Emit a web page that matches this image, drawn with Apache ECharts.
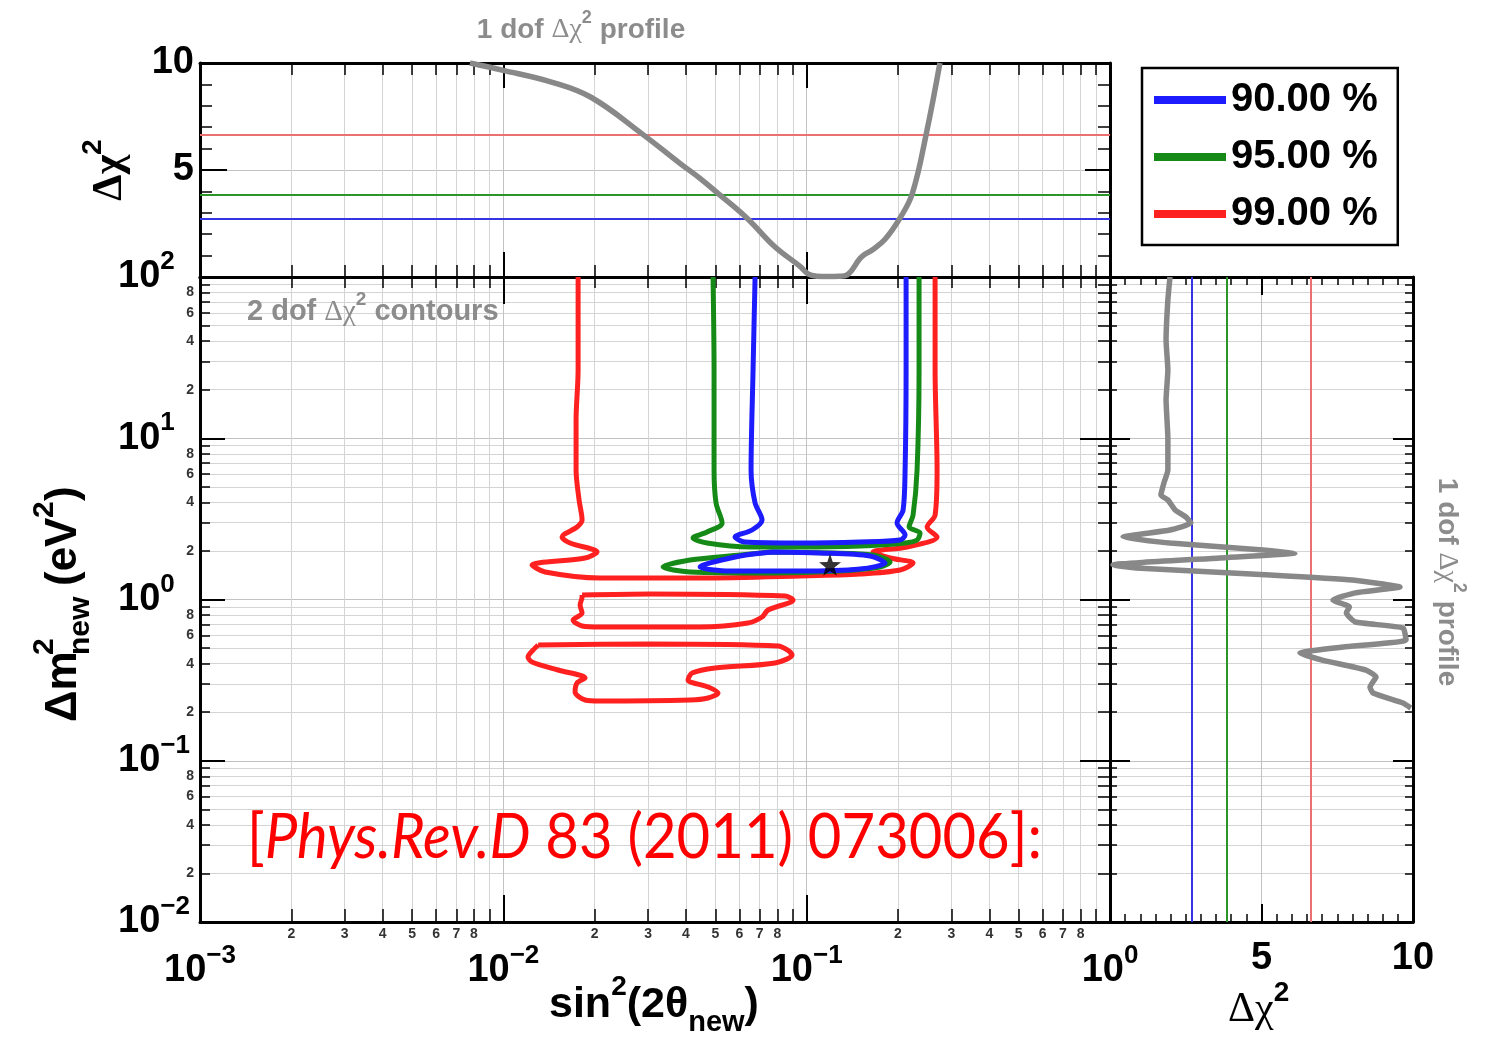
<!DOCTYPE html>
<html><head><meta charset="utf-8">
<script src="https://cdn.jsdelivr.net/npm/echarts@6/dist/echarts.min.js"></script>
<style>html,body{margin:0;padding:0;background:#fff}#c{width:1486px;height:1052px}</style>
</head><body><div id="c"></div>
<script>
// ---------- data ----------
const sin2Range = [0.001, 1];
const dm2Range = [0.01, 100];
const chi2Range = [0, 10];

const levelNames = ['90.00 %', '95.00 %', '99.00 %'];
const levelColors = ['#1c1cff', '#168a16', '#ff2020'];
const oneDofThresholds = [2.71, 3.84, 6.63];
const thresholdColors = ['#3434e4', '#2a962a', '#ec7070'];

const minorMantissaX = [2, 3, 4, 5, 6, 7, 8];
const minorMantissaY = [2, 4, 6, 8];
const decadesX = [0.001, 0.01, 0.1];
const decadesY = [0.01, 0.1, 1, 10];

// 1 dof profile vs sin^2(2theta) (top panel)
const profileTopSin2 = [0.00776, 0.0099, 0.0145, 0.01945, 0.0286, 0.0383, 0.0446, 0.0511, 0.0636, 0.0787, 0.0951, 0.101, 0.108, 0.118, 0.128, 0.136, 0.150, 0.157, 0.164, 0.181, 0.203, 0.223, 0.248, 0.275];
const profileTopChi2 = [10, 9.67, 9.1, 8.4, 6.7, 5.3, 4.6, 3.9, 2.75, 1.4, 0.5, 0.15, 0.04, 0.02, 0.03, 0.1, 0.87, 1.1, 1.25, 1.75, 2.75, 3.9, 6.7, 10];

// 1 dof profile vs dm^2 (right panel)
const profileRightChi2 = [1.98, 1.91, 1.85, 1.91, 1.85, 1.91, 1.91, 1.78, 1.68, 1.91, 2.15, 2.5, 2.67, 1.98, 0.43, 1.98, 5.05, 6.1, 3.63, 0.1, 0.86, 5.28, 8.0, 9.57, 8.1, 7.36, 7.9, 7.8, 8.1, 9.67, 9.77, 7.7, 6.27, 7.0, 8.45, 8.78, 8.58, 8.68, 9.67, 9.93];
const profileRightDm2 = [100, 72, 40.7, 26.5, 17.3, 10, 6.36, 5.28, 4.45, 4.14, 3.59, 3.25, 2.98, 2.70, 2.44, 2.24, 2.03, 1.94, 1.81, 1.64, 1.57, 1.42, 1.32, 1.195, 1.10, 0.993, 0.90, 0.825, 0.725, 0.666, 0.561, 0.507, 0.466, 0.421, 0.365, 0.331, 0.287, 0.263, 0.228, 0.212];

// 2 dof contours [sin^2(2theta), dm^2]
const contour99 = [[0.01764,100],[0.01764,26.5],[0.01737,12.98],[0.01737,6.355],[0.01777,4.141],[0.01818,3.112],[0.01750,2.816],[0.01561,2.441],[0.01659,2.241],[0.02037,1.971],[0.01860,1.809],[0.01243,1.637],[0.01373,1.481],[0.02084,1.360],[0.04451,1.360],[0.0951,1.399],[0.1500,1.439],[0.2032,1.524],[0.2243,1.684],[0.1884,1.809],[0.1656,1.971],[0.2143,2.117],[0.2691,2.441],[0.2495,2.816],[0.2651,3.342],[0.2691,6.355],[0.2651,26.5],[0.2651,100]];
const contour99Island1 = [[0.01818,1.066],[0.03047,1.082],[0.08488,1.051],[0.0902,0.993],[0.07459,0.8608],[0.07129,0.7791],[0.06408,0.7148],[0.04451,0.6753],[0.02084,0.6753],[0.01818,0.685],[0.01698,0.7463],[0.01818,0.8249],[0.01791,0.9245],[0.01818,1.036],[0.01818,1.066]];
const contour99Island2 = [[0.01302,0.5222],[0.03047,0.5297],[0.08047,0.5147],[0.08952,0.4527],[0.07866,0.4039],[0.04989,0.376],[0.0419,0.3501],[0.04064,0.3168],[0.0473,0.2867],[0.05104,0.2631],[0.0473,0.2449],[0.04126,0.238],[0.02084,0.2346],[0.0186,0.238],[0.01724,0.2669],[0.0175,0.3035],[0.0186,0.326],[0.01515,0.3654],[0.01243,0.4097],[0.01206,0.4399],[0.01272,0.5003],[0.01302,0.5222]];
const contour95 = [[0.04913,100],[0.04951,26.5],[0.04951,6.355],[0.05027,3.966],[0.05262,2.982],[0.04694,2.622],[0.04221,2.406],[0.04694,2.241],[0.06507,2.117],[0.0951,2.117],[0.15,2.147],[0.2111,2.241],[0.2312,2.339],[0.2365,2.585],[0.2176,2.816],[0.2243,3.342],[0.2312,6.355],[0.2347,26.5],[0.2347,100]];
const contour95Lobe = [[0.07573,1.971],[0.0603,1.888],[0.04126,1.758],[0.03361,1.591],[0.04126,1.481],[0.07748,1.46],[0.1288,1.502],[0.1746,1.591],[0.1884,1.708],[0.1656,1.888],[0.1222,1.943],[0.07573,1.971]];
const contour90 = [[0.0676,100],[0.06657,26.5],[0.06557,6.355],[0.0676,3.966],[0.07129,3.112],[0.06607,2.698],[0.05805,2.441],[0.06264,2.273],[0.0951,2.241],[0.15,2.273],[0.2032,2.339],[0.2111,2.512],[0.1986,2.982],[0.2079,3.589],[0.2111,6.355],[0.2127,26.5],[0.2127,100]];
const contour90Lobe = [[0.07748,1.971],[0.0603,1.861],[0.04451,1.591],[0.05588,1.502],[0.0951,1.502],[0.15,1.546],[0.1813,1.684],[0.1618,1.861],[0.1107,1.943],[0.07748,1.971]];
const bestFit = [0.1194, 1.64];

// ---------- styling ----------
const F = '"Liberation Sans", Arial, Helvetica, sans-serif';
const SERIF = '"Liberation Serif", "DejaVu Serif", serif';
const GRAY = '#8c8c8c';
const BLACK = '#000';
const frameLine = {color: BLACK, width: 3};
const tickStyle = {color: BLACK, width: 2};
const minorTickStyle = {color: BLACK, width: 1.5};
const gridMajor = {color: '#c2c2c2', width: 1};
const gridMinor = {color: '#d4d4d4', width: 1};

const richAxis = {
  b: {fontFamily: F, fontWeight: 'bold', fontSize: 38, lineHeight: 56, color: BLACK},
  s: {fontFamily: F, fontWeight: 'bold', fontSize: 26, lineHeight: 22, verticalAlign: 'top', color: BLACK}
};
function expLabel(v) {
  const e = Math.round(Math.log10(v));
  return '{b|10}{s|' + (e < 0 ? '\u2212' + (-e) : e) + '}';
}
function pairs(xs, ys) { return xs.map((x, i) => [x, ys[i]]); }

function logAxis(range, grid, pos, o) {
  return {
    gridIndex: grid, type: 'log', logBase: 10, min: range[0], max: range[1], position: pos,
    axisLine: {show: true, onZero: false, lineStyle: frameLine},
    axisTick: {show: true, inside: true, length: o.tick, lineStyle: tickStyle},
    minorTick: {show: true, splitNumber: 9, length: o.minor, lineStyle: minorTickStyle},
    splitLine: {show: !!o.grid, lineStyle: gridMajor},
    minorSplitLine: {show: !!o.grid, lineStyle: gridMinor},
    axisLabel: o.label || {show: false}
  };
}
function chiAxis(grid, pos, o) {
  return {
    gridIndex: grid, type: 'value', min: chi2Range[0], max: chi2Range[1], interval: 5, position: pos,
    axisLine: {show: true, onZero: false, lineStyle: frameLine},
    axisTick: {show: true, inside: true, length: o.tick, lineStyle: tickStyle},
    minorTick: {show: true, splitNumber: o.split, length: o.minor, lineStyle: minorTickStyle},
    splitLine: {show: !!o.grid, lineStyle: gridMajor},
    minorSplitLine: {show: false},
    axisLabel: o.label || {show: false}
  };
}
const bigNum = {show: true, fontFamily: F, fontWeight: 'bold', fontSize: 38, color: BLACK, showMinLabel: false};

function grayRich(fs) {
  return {
    t: {fontFamily: F, fontWeight: 'bold', fontSize: fs, fill: GRAY, lineHeight: fs * 1.5},
    g: {fontFamily: SERIF, fontSize: fs, fill: GRAY, lineHeight: fs * 1.5},
    s: {fontFamily: F, fontWeight: 'bold', fontSize: Math.round(fs * 0.65), fill: GRAY, lineHeight: Math.round(fs * 0.6), verticalAlign: 'top'}
  };
}

const minorXLabels = [];
decadesX.forEach(d => minorMantissaX.forEach(m => minorXLabels.push({xAxis: m * d, label: {formatter: String(m)}})));
const minorYLabels = [];
decadesY.forEach(d => minorMantissaY.forEach(m => minorYLabels.push({yAxis: m * d, label: {formatter: String(m)}})));
const minorLabelStyle = {show: true, fontFamily: F, fontWeight: 'bold', fontSize: 14, color: '#333'};

function contourSeries(name, color, data, extra) {
  return Object.assign({
    type: 'line', name: name, xAxisIndex: 2, yAxisIndex: 2, data: data, smooth: 0.3, symbol: 'none',
    color: color, lineStyle: {color: color, width: 5}, z: 4, animation: false
  }, extra || {});
}

const starPath = 'path://M0,-10 L2.35,-3.24 L9.51,-3.09 L3.8,1.24 L5.88,8.09 L0,4 L-5.88,8.09 L-3.8,1.24 L-9.51,-3.09 L-2.35,-3.24 Z';

const option = {
  animation: false,
  backgroundColor: '#fff',
  grid: [
    {left: 200, top: 63, width: 910, height: 214},
    {left: 200, top: 277, width: 910, height: 645},
    {left: 1110, top: 277, width: 303, height: 645}
  ],
  xAxis: [
    logAxis(sin2Range, 0, 'bottom', {tick: 25, minor: 12, grid: true}),
    logAxis(sin2Range, 0, 'top', {tick: 25, minor: 12}),
    logAxis(sin2Range, 1, 'bottom', {tick: 27, minor: 13, grid: true,
      label: {show: true, margin: 21, formatter: expLabel, rich: richAxis, showMinLabel: true, showMaxLabel: true}}),
    logAxis(sin2Range, 1, 'top', {tick: 27, minor: 11}),
    chiAxis(2, 'bottom', {tick: 18, minor: 8, split: 10, grid: true,
      label: Object.assign({}, bigNum, {margin: 18, lineHeight: 38})}),
    chiAxis(2, 'top', {tick: 18, minor: 8, split: 10})
  ],
  yAxis: [
    chiAxis(0, 'left', {tick: 27, minor: 12, split: 5, grid: true, label: Object.assign({}, bigNum, {margin: 6})}),
    chiAxis(0, 'right', {tick: 25, minor: 12, split: 5}),
    logAxis(dm2Range, 1, 'left', {tick: 25, minor: 10, grid: true,
      label: {show: true, margin: 82, align: 'left', formatter: expLabel, rich: richAxis, showMinLabel: true, showMaxLabel: true}}),
    logAxis(dm2Range, 1, 'right', {tick: 30, minor: 12}),
    logAxis(dm2Range, 2, 'left', {tick: 20, minor: 7, grid: true}),
    logAxis(dm2Range, 2, 'right', {tick: 20, minor: 8})
  ],
  legend: {
    show: true, orient: 'vertical', left: 1142, top: 68, data: levelNames, icon: 'rect',
    itemWidth: 72, itemHeight: 8, itemGap: 9, padding: [8, 20, 7, 12],
    borderColor: BLACK, borderWidth: 2.5, backgroundColor: '#fff', selectedMode: false,
    textStyle: {fontFamily: F, fontWeight: 'bold', fontSize: 40, color: BLACK, lineHeight: 48}
  },
  series: [
    {
      type: 'line', name: 'profile-top', xAxisIndex: 0, yAxisIndex: 0,
      data: pairs(profileTopSin2, profileTopChi2), smooth: 0.4, symbol: 'none',
      color: '#888', lineStyle: {color: '#888', width: 5.5}, z: 4,
      markLine: {silent: true, symbol: ['none', 'none'], label: {show: false}, animation: false, z: 2, precision: 6,
        data: oneDofThresholds.map((v, i) => ({yAxis: v, lineStyle: {color: thresholdColors[i], width: 2, type: 'solid'}}))}
    },
    {
      type: 'line', name: 'profile-right', xAxisIndex: 4, yAxisIndex: 4,
      data: pairs(profileRightChi2, profileRightDm2), smooth: 0.15, symbol: 'none',
      color: '#888', lineStyle: {color: '#888', width: 5.5}, z: 4,
      markLine: {silent: true, symbol: ['none', 'none'], label: {show: false}, animation: false, z: 2, precision: 6,
        data: oneDofThresholds.map((v, i) => ({xAxis: v, lineStyle: {color: thresholdColors[i], width: 2, type: 'solid'}}))}
    },
    contourSeries(levelNames[2], levelColors[2], contour99),
    contourSeries(levelNames[2], levelColors[2], contour99Island1, {clip: false,
      markLine: {silent: true, symbol: ['none', 'none'], animation: false, precision: 6, lineStyle: {color: 'rgba(0,0,0,0)', width: 0},
        label: Object.assign({position: 'start', distance: 5}, minorLabelStyle), data: minorXLabels}}),
    contourSeries(levelNames[2], levelColors[2], contour99Island2, {clip: false,
      markLine: {silent: true, symbol: ['none', 'none'], animation: false, precision: 6, lineStyle: {color: 'rgba(0,0,0,0)', width: 0},
        label: Object.assign({position: 'start', distance: 6}, minorLabelStyle), data: minorYLabels}}),
    contourSeries(levelNames[1], levelColors[1], contour95),
    contourSeries(levelNames[1], levelColors[1], contour95Lobe),
    contourSeries(levelNames[0], levelColors[0], contour90),
    contourSeries(levelNames[0], levelColors[0], contour90Lobe),
    {type: 'scatter', name: 'best fit', xAxisIndex: 2, yAxisIndex: 2, data: [bestFit], symbol: starPath, symbolSize: 22,
      itemStyle: {color: BLACK}, z: 10}
  ],
  graphic: [
    {type: 'text', z: 100, x: 581, y: 30, style: {text: '{t|1 dof }{g|\u0394\u03c7}{s|2}{t| profile}', rich: grayRich(28), align: 'center', verticalAlign: 'middle'}},
    {type: 'text', z: 100, x: 247, y: 312, style: {text: '{t|2 dof }{g|\u0394\u03c7}{s|2}{t| contours}', rich: grayRich(29), align: 'left', verticalAlign: 'middle'}},
    {type: 'text', z: 100, x: 1447, y: 582, rotation: -Math.PI / 2, style: {text: '{t|1 dof }{g|\u0394\u03c7}{s|2}{t| profile}', rich: grayRich(28), align: 'center', verticalAlign: 'middle'}},
    {type: 'text', z: 100, x: 110, y: 170, rotation: Math.PI / 2, style: {text: '{g|\u0394\u03c7}{s|2}', align: 'center', verticalAlign: 'middle',
      rich: {g: {fontFamily: SERIF, fontWeight: 'bold', fontSize: 42, fill: BLACK, lineHeight: 62},
             s: {fontFamily: F, fontWeight: 'bold', fontSize: 28, fill: BLACK, lineHeight: 24, verticalAlign: 'top'}}}},
    {type: 'group', z: 100, x: 64, y: 600, rotation: Math.PI / 2, children: [
      {type: 'text', x: -122, y: 0, style: {text: '\u0394m', fontFamily: F, fontWeight: 'bold', fontSize: 44, fill: BLACK, align: 'left', verticalAlign: 'middle'}},
      {type: 'text', x: -55, y: -19, style: {text: '2', fontFamily: F, fontWeight: 'bold', fontSize: 30, fill: BLACK, align: 'left', verticalAlign: 'middle'}},
      {type: 'text', x: -55, y: 17, style: {text: 'new', fontFamily: F, fontWeight: 'bold', fontSize: 30, fill: BLACK, align: 'left', verticalAlign: 'middle'}},
      {type: 'text', x: 14, y: 0, style: {text: '(eV', fontFamily: F, fontWeight: 'bold', fontSize: 44, fill: BLACK, align: 'left', verticalAlign: 'middle'}},
      {type: 'text', x: 82, y: -19, style: {text: '2', fontFamily: F, fontWeight: 'bold', fontSize: 30, fill: BLACK, align: 'left', verticalAlign: 'middle'}},
      {type: 'text', x: 99, y: 0, style: {text: ')', fontFamily: F, fontWeight: 'bold', fontSize: 44, fill: BLACK, align: 'left', verticalAlign: 'middle'}}
    ]},
    {type: 'text', z: 100, x: 549, y: 1005, style: {text: '{a|sin}{s|2}{a|(2\u03b8}{d|new}{a|)}', align: 'left', verticalAlign: 'middle',
      rich: {a: {fontFamily: F, fontWeight: 'bold', fontSize: 43, fill: BLACK, lineHeight: 64},
             s: {fontFamily: F, fontWeight: 'bold', fontSize: 28, fill: BLACK, lineHeight: 24, verticalAlign: 'top'},
             d: {fontFamily: F, fontWeight: 'bold', fontSize: 29, fill: BLACK, lineHeight: 20, verticalAlign: 'bottom'}}}},
    {type: 'text', z: 100, x: 1228, y: 1010, style: {text: '{g|\u0394\u03c7}{s|2}', align: 'left', verticalAlign: 'middle',
      rich: {g: {fontFamily: SERIF, fontSize: 42, fill: BLACK, lineHeight: 62},
             s: {fontFamily: F, fontWeight: 'bold', fontSize: 28, fill: BLACK, lineHeight: 24, verticalAlign: 'top'}}}},
    {type: 'text', z: 100, x: 247, y: 838, scaleY: 1.08, style: {text: '{n|[}{i|Phys.Rev.D}{n| 83 (2011) 073006]:}', align: 'left', verticalAlign: 'middle',
      rich: {n: {fontFamily: 'Lato, "Open Sans", sans-serif', fontSize: 58, fill: '#ff0000'},
             i: {fontFamily: 'Lato, "Open Sans", sans-serif', fontStyle: 'italic', fontSize: 58, fill: '#ff0000'}}}}
  ]
};

const chart = echarts.init(document.getElementById('c'), null, {renderer: 'canvas'});
chart.setOption(option);
</script></body></html>
